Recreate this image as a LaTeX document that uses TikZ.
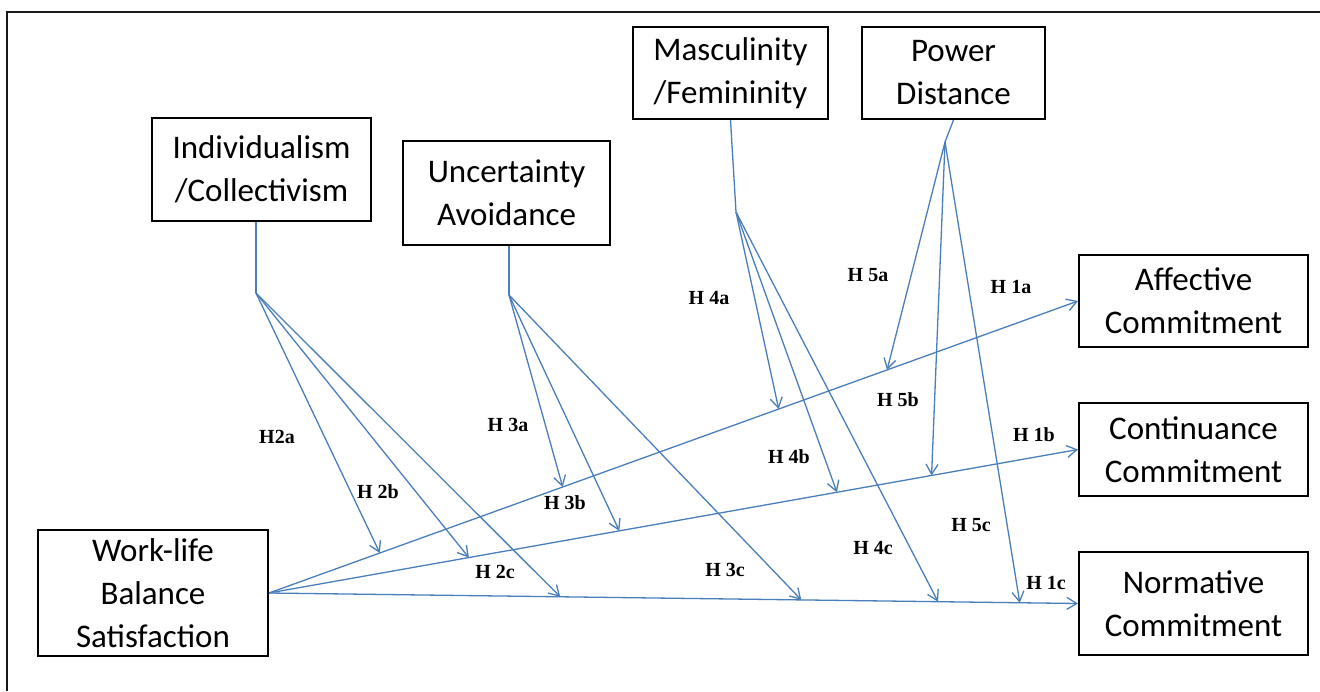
\documentclass[tikz,border=0pt]{standalone}
\usepackage{fontspec}
\setmainfont{Carlito}
\newfontfamily\hypfont{Liberation Serif}
\usepackage{tikz}
\usetikzlibrary{arrows.meta,positioning}
\definecolor{cfLine}{HTML}{4A7EBB}
\definecolor{cfInk}{HTML}{1A1A1A}
\tikzset{
  dimBox/.style={draw=black, line width=2pt, fill=white, align=center, inner sep=0pt, font=\fontsize{33}{43}\selectfont},
  hypArrow/.style={-{Straight Barb[length=10pt,width=12pt]}, line width=1.3pt, draw=cfLine},
  hypLine/.style={line width=1.3pt, draw=cfLine},
  hypLabel/.style={font=\hypfont\bfseries\fontsize{20}{20}\selectfont, inner sep=0pt}
}

\begin{document}
\begin{tikzpicture}[x=1pt, y=-1pt, node distance=54pt and 32pt]
  \useasboundingbox (0,0) rectangle (1320,691);
  \draw[cfInk, line width=2pt] (1320,12) -- (7,12) -- (7,691);

  % dimensions
  \node[dimBox, minimum width=195pt, minimum height=92pt] (mf) at (730.5,73) {Masculinity\\/Femininity};
  \node[dimBox, minimum width=183pt, minimum height=92pt, right=of mf] (pd) {Power\\Distance};
  \node[dimBox, minimum width=219pt, minimum height=103pt] (ic) at (261.5,169.5) {Individualism\\/Collectivism};
  \node[dimBox, minimum width=207pt, minimum height=104pt] (ua) at (506.5,193) {Uncertainty\\Avoidance};

  % outcomes
  \node[dimBox, minimum width=229pt, minimum height=92pt] (ac) at (1193.5,301) {Affective\\Commitment};
  \node[dimBox, minimum width=229pt, minimum height=93pt, below=of ac] (cc) {Continuance\\Commitment};
  \node[dimBox, minimum width=229pt, minimum height=103pt, below=of cc] (nc) {Normative\\Commitment};
  \node[dimBox, minimum width=230pt, minimum height=126pt] (wlb) at (153,593) {Work-life\\Balance\\Satisfaction};

  \draw[hypArrow] (wlb.east) -- coordinate[pos=0.137] (af2) coordinate[pos=0.363] (af3) coordinate[pos=0.63] (af4) coordinate[pos=0.764] (af5) (ac.west);
  \draw[hypArrow] (wlb.east) -- coordinate[pos=0.247] (co2) coordinate[pos=0.433] (co3) coordinate[pos=0.702] (co4) coordinate[pos=0.819] (co5) (cc.west);
  \draw[hypArrow] (wlb.east) -- coordinate[pos=0.36] (no2) coordinate[pos=0.658] (no3) coordinate[pos=0.827] (no4) coordinate[pos=0.928] (no5) (nc.west);

  \coordinate (j2) at (256,293);
  \coordinate (j3) at (509,295);
  \coordinate (j4) at (736,212);
  \coordinate (j5) at (945,142);
  \draw[hypLine] (ic.south -| j2) -- (j2);
  \draw[hypLine] (ua.south -| j3) -- (j3);
  \draw[hypLine] (mf.south) -- (j4);
  \draw[hypLine] (pd.south) -- (j5);

  \draw[hypArrow] (j2) -- (af2);
  \draw[hypArrow] (j2) -- (co2);
  \draw[hypArrow] (j2) -- (no2);
  \draw[hypArrow] (j3) -- (af3);
  \draw[hypArrow] (j3) -- (co3);
  \draw[hypArrow] (j3) -- (no3);
  \draw[hypArrow] (j4) -- (af4);
  \draw[hypArrow] (j4) -- (co4);
  \draw[hypArrow] (j4) -- (no4);
  \draw[hypArrow] (j5) -- (af5);
  \draw[hypArrow] (j5) -- (co5);
  \draw[hypArrow] (j5) -- (no5);

  % hypothesis labels
  \node[hypLabel] (h1a) at (1011,287) {H 1a};
  \node[hypLabel] (h1b) at (1034,435) {H 1b};
  \node[hypLabel] (h1c) at (1046,583) {H 1c};
  \node[hypLabel] (h2a) at (277,437) {H2a};
  \node[hypLabel] (h2b) at (378,492) {H 2b};
  \node[hypLabel] (h2c) at (495,572) {H 2c};
  \node[hypLabel] (h3a) at (508,425) {H 3a};
  \node[hypLabel] (h3b) at (565,503) {H 3b};
  \node[hypLabel] (h3c) at (725,570) {H 3c};
  \node[hypLabel] (h4a) at (709,298) {H 4a};
  \node[hypLabel] (h4b) at (789,457) {H 4b};
  \node[hypLabel] (h4c) at (873,548) {H 4c};
  \node[hypLabel] (h5a) at (868,275) {H 5a};
  \node[hypLabel] (h5b) at (898,400) {H 5b};
  \node[hypLabel] (h5c) at (971,525) {H 5c};
\end{tikzpicture}
\end{document}
